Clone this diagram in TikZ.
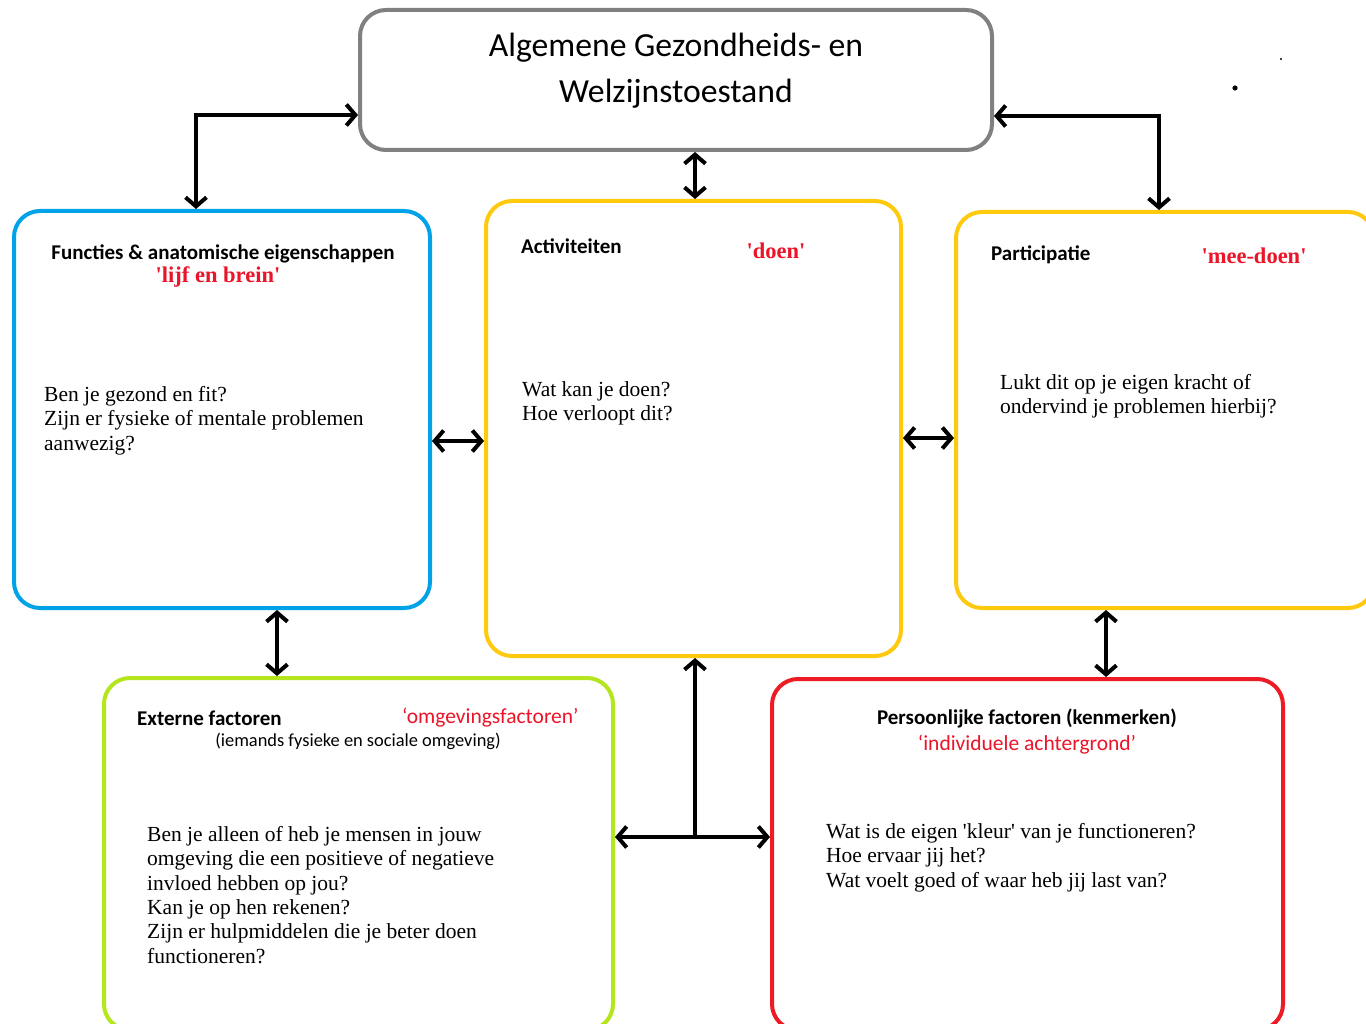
\documentclass[tikz,border=0pt]{standalone}
\usepackage{fontspec}
\setmainfont{Liberation Serif}
\newfontfamily\calfont{Carlito}
\usetikzlibrary{arrows.meta}
\definecolor{boxgray}{RGB}{128,128,128}
\definecolor{boxblue}{RGB}{0,162,232}
\definecolor{boxyellow}{RGB}{255,201,14}
\definecolor{boxgreen}{RGB}{181,230,29}
\definecolor{boxred}{RGB}{237,28,36}
\definecolor{txtred}{RGB}{236,20,40}
\tikzset{
  box/.style={rectangle, rounded corners=26pt, line width=4pt, inner sep=0pt},
  conn/.style={line width=3.8pt, draw=black, {Straight Barb[length=9pt,width=21pt,line width=4pt]}-{Straight Barb[length=9pt,width=21pt,line width=4pt]}},
  oneway/.style={line width=3.8pt, draw=black, -{Straight Barb[length=9pt,width=21pt,line width=4pt]}},
  head/.style={font=\calfont\bfseries\fontsize{21}{25}\selectfont, inner sep=0pt},
  redq/.style={font=\bfseries\fontsize{22.5}{26}\selectfont, text=txtred, inner sep=0pt},
  redc/.style={font=\calfont\fontsize{21.5}{25}\selectfont, text=txtred, inner sep=0pt},
  body/.style={font=\fontsize{21.5}{24.4}\selectfont, align=left, anchor=north west, inner sep=0pt},
}
\begin{document}
\begin{tikzpicture}[x=1pt,y=-1pt]
\useasboundingbox (0,0) rectangle (1366,1024);
\fill[white] (0,0) rectangle (1366,1024);
\clip (0,0) rectangle (1366,1024);

% boxes
\node[box, draw=boxgray, minimum width=632pt, minimum height=140pt] (top) at (676,80) {};
\node[box, draw=boxblue, minimum width=416pt, minimum height=397pt] (blue) at (222,409.5) {};
\node[box, draw=boxyellow, minimum width=415pt, minimum height=455pt] (act) at (693.5,428.5) {};
\node[box, draw=boxyellow, minimum width=418pt, minimum height=396pt] (part) at (1165,410) {};
\node[box, draw=boxgreen, minimum width=509pt, minimum height=352pt] (green) at (358.5,854) {};
\node[box, draw=boxred, minimum width=511pt, minimum height=351pt] (red) at (1027.5,854.5) {};

% title
\node[font=\calfont\fontsize{33.7}{46}\selectfont, align=center, anchor=north, inner sep=0pt] (title) at (676,33) {Algemene Gezondheids- en\\Welzijnstoestand};

% blue box texts
\node[head] (h1) at (223,254) {Functies \& anatomische eigenschappen};
\node[redq] (r1) at (218,277) {\textquotesingle lijf en brein\textquotesingle};
\node[body] (b1) at (44,386) {Ben je gezond en fit?\\Zijn er fysieke of mentale problemen\\aanwezig?};

% activiteiten texts
\node[head, anchor=west] (h2) at (521,246) {Activiteiten};
\node[redq] (r2) at (776,251) {\textquotesingle doen\textquotesingle};
\node[body] (b2) at (522,381) {Wat kan je doen?\\Hoe verloopt dit?};

% participatie texts
\node[head, anchor=west] (h3) at (991,255) {Participatie};
\node[redq] (r3) at (1254,256) {\textquotesingle mee-doen\textquotesingle};
\node[body] (b3) at (1000,374) {Lukt dit op je eigen kracht of\\ondervind je problemen hierbij?};

% externe factoren texts
\node[head, anchor=west] (h4) at (137,718) {Externe factoren};
\node[redc, anchor=west] (r4) at (402,718) {‘omgevingsfactoren’};
\node[font=\calfont\fontsize{18.4}{21}\selectfont, inner sep=0pt] (s4) at (358,741) {(iemands fysieke en sociale omgeving)};
\node[body] (b4) at (147,826) {Ben je alleen of heb je mensen in jouw\\omgeving die een positieve of negatieve\\invloed hebben op jou?\\Kan je op hen rekenen?\\Zijn er hulpmiddelen die je beter doen\\functioneren?};

% persoonlijke factoren texts
\node[head] (h5) at (1027,718) {Persoonlijke factoren (kenmerken)};
\node[redc] (r5) at (1027,745) {‘individuele achtergrond’};
\node[body] (b5) at (826,823) {Wat is de eigen \textquotesingle kleur\textquotesingle\ van je functioneren?\\Hoe ervaar jij het?\\Wat voelt goed of waar heb jij last van?};

% connectors
\coordinate (c1) at (196,115);
\draw[conn] (c1 |- blue.north) -- (c1) -- (c1 -| top.west);
\coordinate (c2) at (695,0);
\draw[conn] (c2 |- top.south) -- (c2 |- act.north);
\coordinate (c3) at (1159,116);
\draw[conn] (c3 -| top.east) -- (c3) -- (c3 |- part.north);
\coordinate (c4) at (0,441);
\draw[conn] (c4 -| blue.east) -- (c4 -| act.west);
\coordinate (c5) at (0,438);
\draw[conn] (c5 -| act.east) -- (c5 -| part.west);
\coordinate (c6) at (277,0);
\draw[conn] (c6 |- blue.south) -- (c6 |- green.north);
\coordinate (c7) at (1106,0);
\draw[conn] (c7 |- part.south) -- (c7 |- red.north);
\coordinate (c8) at (695,837);
\draw[conn] (c8 -| green.east) -- (c8 -| red.west);
\draw[oneway] (c8) -- (c8 |- act.south);

% stray dots
\fill (1235,88) circle (2.6pt);
\fill (1281,59) circle (1.1pt);
\end{tikzpicture}
\end{document}
